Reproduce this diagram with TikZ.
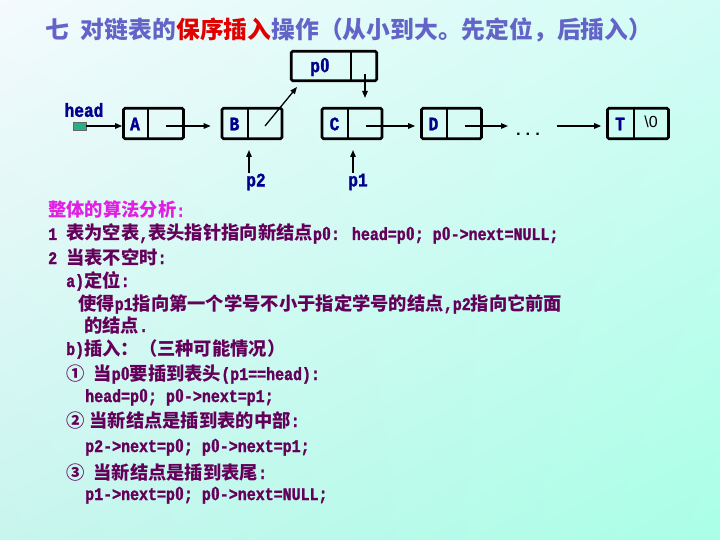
\documentclass[tikz,border=0pt]{standalone}
\usepackage{fontspec}
\usepackage{graphicx}
\setmainfont{Liberation Mono}
\newfontfamily\cjk{Noto Sans CJK SC}
\newfontfamily\lsans{Liberation Sans}
\newfontfamily\lserifb[UprightFont={* Bold},FakeStretch=0.95,FakeBold=1.5]{Liberation Serif}
\newfontfamily\tmonob[UprightFont={* Bold},FakeStretch=0.85,FakeBold=1.5]{Liberation Mono}
\usetikzlibrary{arrows.meta,calc,shadings}
\definecolor{bgUL}{RGB}{244,250,253}
\definecolor{bgUR}{RGB}{210,252,245}
\definecolor{bgLL}{RGB}{200,245,238}
\definecolor{bgLR}{RGB}{170,255,230}
\definecolor{titleblue}{RGB}{100,100,200}
\definecolor{titlered}{RGB}{225,0,0}
\definecolor{headmag}{RGB}{225,30,225}
\definecolor{txtpurple}{RGB}{100,0,90}
\definecolor{nodeblue}{RGB}{0,0,140}
\definecolor{headgreen}{RGB}{40,175,135}
\newcommand\zh[1]{{\cjk\bfseries\fontsize{18.3}{18.3}\selectfont #1}}
\newcommand\zr{\makebox[0.51em]{\lserifb\scalebox{1}[1.12]{0}}}
\begin{document}
\begin{tikzpicture}[x=1pt,y=-1pt,
  box/.style={draw=black, line width=2.6pt, rounded corners=1.5pt, inner sep=0pt, minimum height=30.5pt, minimum width=60pt},
  divline/.style={line width=1.2pt},
  lbl/.style={text=nodeblue, font=\tmonob\fontsize{19}{19}\selectfont, inner sep=0pt},
  arr/.style={line width=1.3pt, -{Triangle[length=7pt,width=5.5pt]}},
  txt/.style={anchor=base west, inner sep=0pt, text=txtpurple, font=\tmonob\fontsize{17.6}{17.6}\selectfont}
]
\useasboundingbox (0,0) rectangle (720,540);
\shade[upper left=bgUL, upper right=bgUR, lower left=bgLL, lower right=bgLR] (0,0) rectangle (720,540);

% title
\node[anchor=base west, inner sep=0pt, font=\cjk\bfseries\fontsize{23.8}{23.8}\selectfont, text=titleblue] (title) at (45,39)
  {七\hspace{12pt}对链表的\textcolor{titlered}{保序插入}操作（从小到大。先定位，后插入）};

% list nodes
\node[box] (A) at (153.5,123.5) {};
\node[box] (B) at (252,123.5) {};
\node[box] (C) at (352,123.5) {};
\node[box] (D) at (451.5,123.5) {};
\node[box, minimum width=61pt] (T) at (638,123.5) {};
\node[box, minimum width=85.5pt, minimum height=29.5pt] (p0) at (334,66) {};
\draw[divline] (148,109) -- (148,138);
\draw[divline] (248,109) -- (248,138);
\draw[divline] (348,109) -- (348,138);
\draw[divline] (447,109) -- (447,138);
\draw[divline] (634,109) -- (634,138);
\draw[divline] (351,52) -- (351,80);

\node[lbl] (Alab) at (135,124) {A};
\node[lbl] (Blab) at (234.5,124) {B};
\node[lbl] (Clab) at (334.5,124) {C};
\node[lbl] (Dlab) at (433.5,124) {D};
\node[lbl] (Tlab) at (620,124) {T};
\node[inner sep=0pt, font=\lsans\fontsize{16}{16}\selectfont] (nul) at (651,122) {\textbackslash 0};
\node[lbl] (p0lab) at (320,67) {p\zr};

% head pointer
\node[draw=black!60, line width=0.5pt, fill=headgreen, minimum width=13pt, minimum height=8pt, inner sep=0pt] (head) at (79.5,126) {};
\node[lbl] (headlab) at (84,110) {head};

\node[inner sep=0pt, font=\bfseries\fontsize{16}{16}\selectfont] (dots) at (528,134) {...};

% pointer coordinates
\coordinate (Ap) at (166,126);
\coordinate (Bp) at (265,126);
\coordinate (Cp) at (366,126);
\coordinate (Dp) at (465,126);
\coordinate (p0p) at (365,74);
\coordinate (p0in) at (297,87);
\coordinate (dl) at (508,126);
\coordinate (dr) at (557,126);

\draw[arr] (head.east) -- (head.east -| A.west);
\draw[arr, shorten >=10pt] (Ap) -- (Ap -| B.west);
\draw[arr] (Bp) -- (p0in);
\draw[arr, shorten >=9pt] (p0p) -- (p0p |- C.north);
\draw[arr, shorten >=5pt] (Cp) -- (Cp -| D.west);
\draw[arr] (Dp) -- (dl);
\draw[arr, shorten >=5pt] (dr) -- (dr -| T.west);

% p2, p1
\node[lbl] (p2) at (256,182) {p2};
\node[lbl] (p1) at (358,182) {p1};
\coordinate (p2a) at (249,173);
\coordinate (p2b) at (249,150);
\coordinate (p1a) at (353,173);
\coordinate (p1b) at (353,150);
\draw[arr] (p2a) -- (p2b);
\draw[arr] (p1a) -- (p1b);

% text
\node[txt, text=headmag] (t0) at (48,217) {\zh{整体的算法分析}:};
\node[txt] (t1) at (48,240) {1 \zh{表为空表},\zh{表头指针指向新结点}p\zr: head=p\zr; p\zr->next=NULL;};
\node[txt] (t2) at (48,264) {2 \zh{当表不空时}:};
\node[txt] (t3) at (66,287) {a)\zh{定位}:};
\node[txt] (t4) at (78,310) {\zh{使得}p1\zh{指向第一个学号不小于指定学号的结点},p2\zh{指向它前面}};
\node[txt] (t5) at (84,332) {\zh{的结点}.};
\node[txt] (t6) at (66,355) {b)\zh{插入：（三种可能情况）}};
\node[txt] (t7) at (66,380) {\zh{①} \zh{当}p\zr\zh{要插到表头}(p1==head):};
\node[txt] (t8) at (85,402) {head=p\zr; p\zr->next=p1;};
\node[txt] (t9) at (66,427) {\zh{②}\hspace{5pt}\zh{当新结点是插到表的中部}:};
\node[txt] (t10) at (85,452) {p2->next=p\zr; p\zr->next=p1;};
\node[txt] (t11) at (66,479) {\zh{③} \zh{当新结点是插到表尾}:};
\node[txt] (t12) at (85,500) {p1->next=p\zr; p\zr->next=NULL;};
\end{tikzpicture}
\end{document}
